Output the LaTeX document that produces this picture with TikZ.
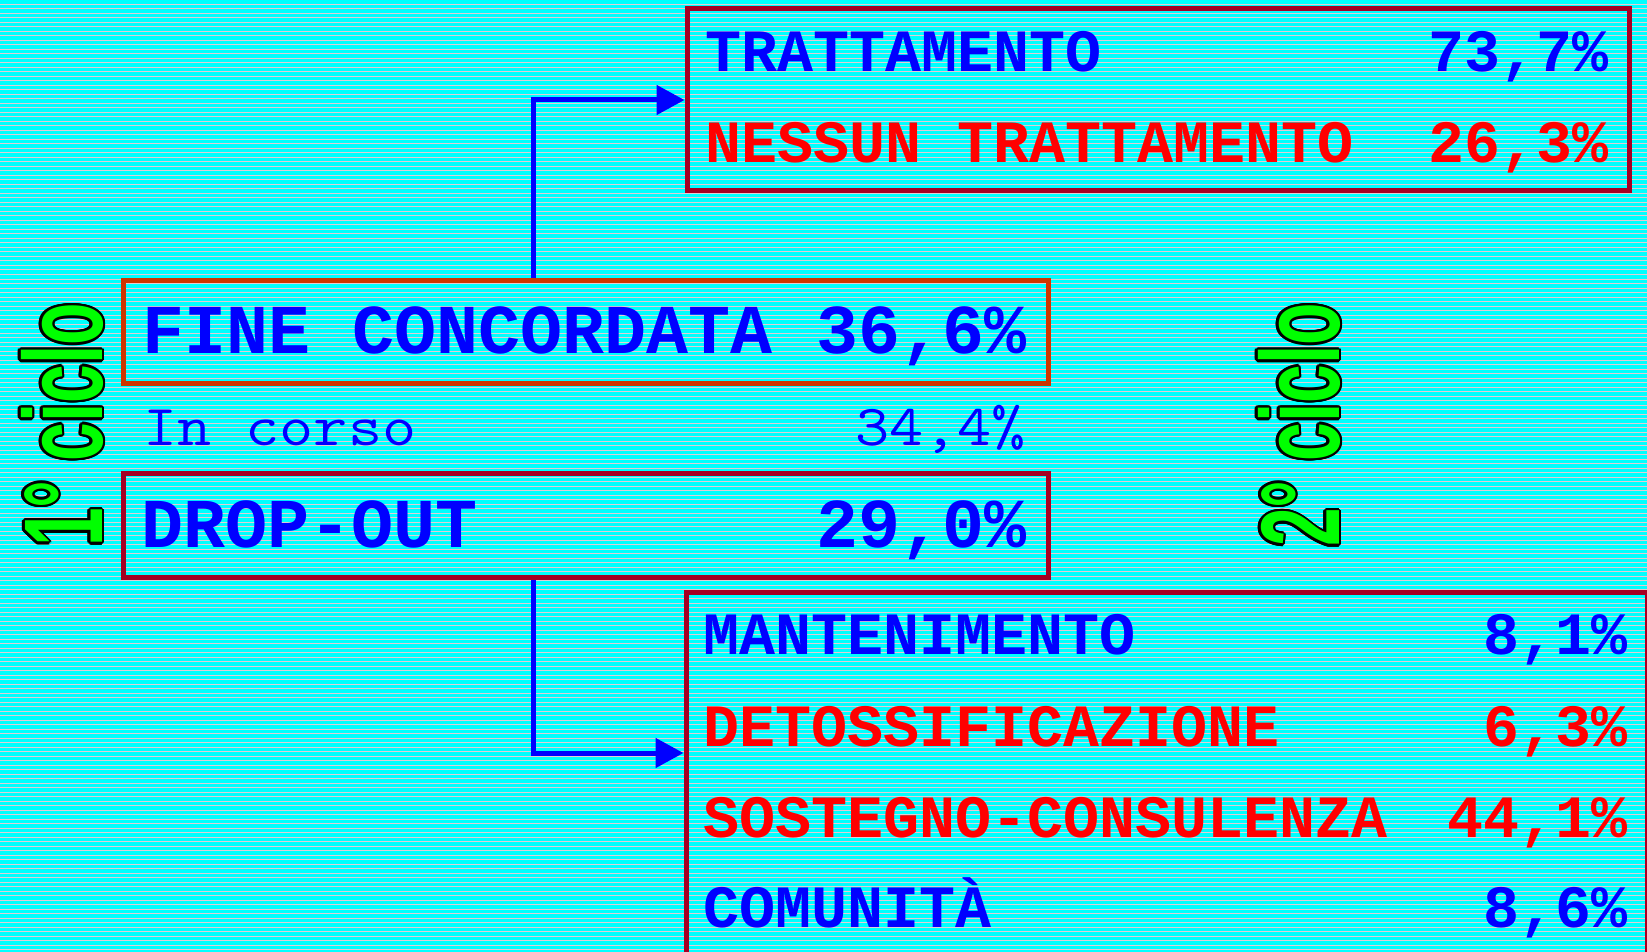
\documentclass[tikz,border=0pt]{standalone}
\usepackage{fontspec}
\newfontfamily\monofont{Liberation Mono}
\newfontfamily\cicfont{Liberation Sans}
\usetikzlibrary{arrows.meta,calc}
\definecolor{bg}{RGB}{0,255,255}
\definecolor{stripe}{RGB}{228,205,212}
\definecolor{boxred}{RGB}{165,0,35}
\definecolor{boxorange}{RGB}{205,55,0}
\definecolor{tblue}{RGB}{0,0,255}
\definecolor{tred}{RGB}{255,0,0}
\definecolor{cgreen}{RGB}{0,255,0}
\tikzset{
  bigtxt/.style={font=\monofont\bfseries\fontsize{70}{70}\selectfont, inner sep=0pt, text=tblue},
  medtxt/.style={font=\monofont\bfseries\fontsize{60}{60}\selectfont, inner sep=0pt},
  regtxt/.style={font=\ttfamily\fontsize{58}{58}\selectfont, inner sep=0pt, text=tblue},
  frame/.style={draw=boxred, line width=5pt, inner sep=0pt},
  conn/.style={draw=tblue, line width=5pt, -{Triangle[length=28pt,width=29pt]}},
  cyc/.style={font=\cicfont\bfseries\fontsize{112}{112}\selectfont, inner sep=0pt, rotate=90, anchor=base},
  lft/.style={anchor=base west},
  rgt/.style={anchor=base east},
}
\begin{document}
\begin{tikzpicture}[x=1pt,y=-1pt]
\useasboundingbox (0,0) rectangle (1647,952);
\clip (0,0) rectangle (1647,952);
\fill[bg] (0,0) rectangle (1647,952);
\foreach \i in {0,...,212} \draw[stripe, line width=1pt] (0,\i*4.5) -- (1647,\i*4.5);

% boxes
\node[frame, minimum width=942pt, minimum height=182pt] (top) at (1158,100) {};
\node[frame, draw=boxorange, minimum width=925pt, minimum height=103pt] (fine) at (585.5,331.5) {};
\node[frame, minimum width=925pt, minimum height=104pt] (drop) at (585.5,525) {};
\node[frame, minimum width=961pt, minimum height=408pt] (bot) at (1166.5,796) {};

% connectors
\coordinate (ta) at (533,98);
\coordinate (tb) at (533,753);
\draw[conn] (fine.north -| ta) |- (top.west);
\draw[conn] (drop.south -| tb) |- (bot.west |- tb);

% top box texts
\node[medtxt, lft, text=tblue] (t1) at (705,72) {TRATTAMENTO};
\node[medtxt, rgt, text=tblue] (t1v) at (1609,72) {73,7\%};
\node[medtxt, lft, text=tred] (t2) at (705,163) {NESSUN TRATTAMENTO};
\node[medtxt, rgt, text=tred] (t2v) at (1609,163) {26,3\%};

% middle
\node[bigtxt, lft] (f1) at (142,353) {FINE CONCORDATA};
\node[bigtxt, rgt] (f1v) at (1027,353) {36,6\%};
\node[regtxt, lft] (c1) at (143,445) {\scalebox{1.143}[1]{In corso}};
\node[regtxt, rgt] (c1v) at (1026,445) {\scalebox{1.143}[1]{34,4\%}};
\node[bigtxt, lft] (d1) at (141,547) {DROP-OUT};
\node[bigtxt, rgt] (d1v) at (1027,547) {29,0\%};

% bottom box texts
\node[medtxt, lft, text=tblue] (b1) at (703,654) {MANTENIMENTO};
\node[medtxt, rgt, text=tblue] (b1v) at (1628,654) {8,1\%};
\node[medtxt, lft, text=tred] (b2) at (703,746) {DETOSSIFICAZIONE};
\node[medtxt, rgt, text=tred] (b2v) at (1628,746) {6,3\%};
\node[medtxt, lft, text=tred] (b3) at (703,837) {SOSTEGNO-CONSULENZA};
\node[medtxt, rgt, text=tred] (b3v) at (1628,837) {44,1\%};
\node[medtxt, lft, text=tblue] (b4) at (703,927) {COMUNITÀ};
\node[medtxt, rgt, text=tblue] (b4v) at (1628,927) {8,6\%};

% cycle labels with outline
\coordinate (cy1) at (102,425);
\coordinate (cy2) at (1339,425);
\foreach \a in {0,22.5,...,337.5} {
  \node[cyc, text=black] at ($(cy1)+(\a:2.5)$) {\scalebox{0.62}[1]{1° ciclo}};
  \node[cyc, text=black] at ($(cy2)+(\a:2.5)$) {\scalebox{0.62}[1]{2° ciclo}};
}
\node[cyc, text=cgreen] (cyc1) at (cy1) {\scalebox{0.62}[1]{1° ciclo}};
\node[cyc, text=cgreen] (cyc2) at (cy2) {\scalebox{0.62}[1]{2° ciclo}};
\end{tikzpicture}
\end{document}
